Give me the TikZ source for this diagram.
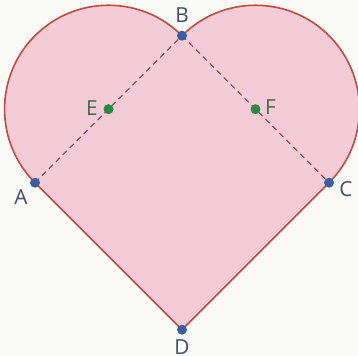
\documentclass[tikz,border=0pt]{standalone}
\usepackage{fontspec}
\setmainfont{Open Sans}
\usetikzlibrary{positioning,calc}
\definecolor{hrtfill}{RGB}{243,204,215}
\definecolor{hrtline}{RGB}{196,72,62}
\definecolor{ptblue}{RGB}{58,94,158}
\definecolor{ptgreen}{RGB}{38,140,68}
\definecolor{lblblue}{RGB}{62,80,104}
\definecolor{lblgreen}{RGB}{72,104,74}
\definecolor{paper}{RGB}{250,250,247}
\newcommand{\hr}{1.0394}

\begin{document}
\begin{tikzpicture}[x=1cm, y=1cm,
  font=\fontsize{5.9}{6.5}\selectfont,
  pt/.style={circle, inner sep=0pt, minimum size=0.1cm},
  vtx/.style={pt, fill=ptblue},
  ctr/.style={pt, fill=ptgreen},
  lbl/.style={text=lblblue, inner sep=0pt},
  clbl/.style={lbl, text=lblgreen},
  outline/.style={draw=hrtline, line width=0.45pt},
  diag/.style={hrtline!80!black, line width=0.3pt, dash pattern=on 1.6pt off 1.2pt}]
\fill[paper] (-1.82,-1.733) rectangle (1.76,1.827);
\useasboundingbox (-1.82,-1.733) rectangle (1.76,1.827);
% corners of the square and the two centres
\coordinate (A) at (-1.47,0);
\coordinate (B) at (0,1.47);
\coordinate (C) at (1.47,0);
\coordinate (D) at (0,-1.47);
\coordinate (E) at (-0.735,0.735);
\coordinate (F) at (0.735,0.735);
% heart
\draw[outline, fill=hrtfill] (A) arc[start angle=225, end angle=45, radius=\hr]
  arc[start angle=135, end angle=-45, radius=\hr] -- (D) -- cycle;
\draw[diag] (A) -- (B); \draw[diag] (B) -- (C);
\node[vtx] (pA) at (A) {};
\node[vtx] (pB) at (B) {};
\node[vtx] (pC) at (C) {};
\node[vtx] (pD) at (D) {};
\node[ctr] (pE) at (E) {};
\node[ctr] (pF) at (F) {};
% labels
\node[lbl]  (lA) at (-1.61,-0.14) {A};
\node[lbl]  (lB) at (0,1.675)     {B};
\node[lbl]  (lC) at (1.64,-0.06)  {C};
\node[lbl]  (lD) at (0,-1.64)     {D};
\node[clbl] (lE) at (-0.90,0.75)  {E};
\node[clbl] (lF) at (0.885,0.76)  {F};
\end{tikzpicture}
\end{document}
